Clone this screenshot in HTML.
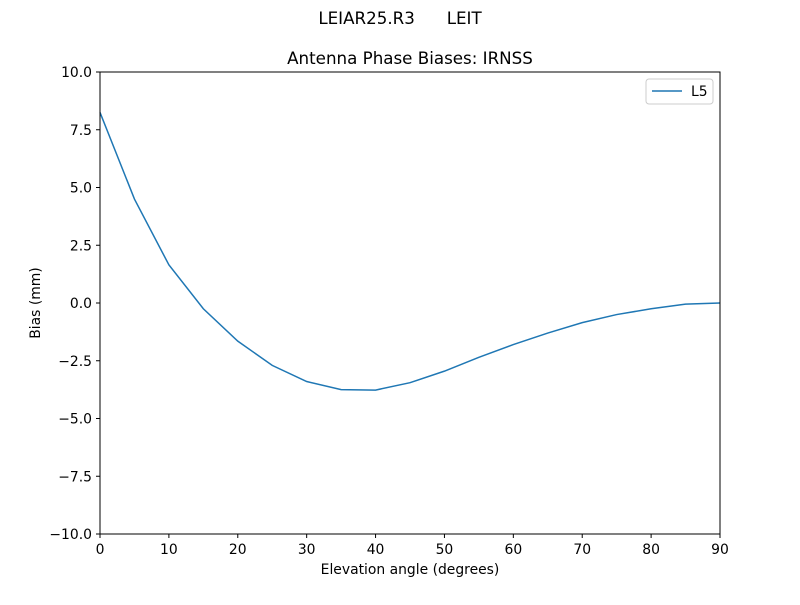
<!DOCTYPE html>
<html><head><meta charset="utf-8"><style>
body{margin:0;background:#fff;}
svg{font-family:"DejaVu Sans","Liberation Sans",sans-serif;}
</style></head><body>
<svg id="chart" width="800" height="600">
<rect width="800" height="600" fill="#fff"/>
<text x="400" y="24" font-size="16.7" text-anchor="middle" style="white-space:pre" xml:space="preserve">LEIAR25.R3      LEIT</text>
<text x="410" y="64" font-size="16.7" text-anchor="middle">Antenna Phase Biases: IRNSS</text>
<g id="ticks"></g>
<polyline id="line" fill="none" stroke="#1f77b4" stroke-width="1.5"/>
<rect x="100" y="72" width="620" height="462" fill="none" stroke="#000" stroke-width="1"/>
<text x="410" y="574" font-size="13.9" text-anchor="middle">Elevation angle (degrees)</text>
<text transform="translate(40,303) rotate(-90)" font-size="13.9" text-anchor="middle">Bias (mm)</text>
<g>
<rect x="646" y="79" width="67" height="25" rx="3" fill="#fff" stroke="#ccc"/>
<line x1="652" y1="91" x2="682" y2="91" stroke="#1f77b4" stroke-width="1.5"/>
<text x="691" y="96" font-size="13.9">L5</text>
</g>
</svg>
<script>
const elev=[0,5,10,15,20,25,30,35,40,45,50,55,60,65,70,75,80,85,90];
const bias=[8.25,4.5,1.65,-0.25,-1.65,-2.7,-3.4,-3.75,-3.77,-3.45,-2.95,-2.35,-1.8,-1.3,-0.85,-0.5,-0.25,-0.05,0];
const xTicks=[0,10,20,30,40,50,60,70,80,90];
const yTicks=[-10,-7.5,-5,-2.5,0,2.5,5,7.5,10];
const yLabels=["\u221210.0","\u22127.5","\u22125.0","\u22122.5","0.0","2.5","5.0","7.5","10.0"];
const X=v=>100+v/90*620, Y=v=>303-v*23.1;
const ns="http://www.w3.org/2000/svg", g=document.getElementById('ticks');
function mk(t,a){const e=document.createElementNS(ns,t);for(const k in a)e.setAttribute(k,a[k]);g.appendChild(e);return e;}
xTicks.forEach(v=>{mk('line',{x1:X(v),x2:X(v),y1:534,y2:538,stroke:'#000'});
const t=mk('text',{x:X(v),y:554,'font-size':13.9,'text-anchor':'middle'});t.textContent=v;

});
yTicks.forEach((v,i)=>{mk('line',{x1:96,x2:100,y1:Y(v),y2:Y(v),stroke:'#000'});
const t=mk('text',{x:92,y:Y(v)+5,'font-size':13.9,'text-anchor':'end'});t.textContent=yLabels[i];

});
document.getElementById('line').setAttribute('points',elev.map((e,i)=>X(e)+','+Y(bias[i])).join(' '));
</script>
</body></html>
